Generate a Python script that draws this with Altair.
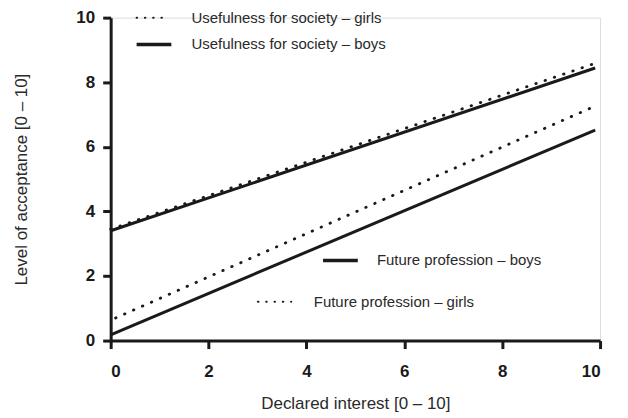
import altair as alt
import pandas as pd

# Regression lines (start/end values)
series = ["Usefulness for society – girls", "Usefulness for society – boys",
          "Future profession – boys", "Future profession – girls"]
styles = ["dotted", "solid", "solid", "dotted"]
x_start = [0.0, 0.0, 0.0, 0.1]
x_end = [9.85, 9.9, 9.9, 9.88]
y_start = [3.45, 3.4, 0.18, 0.7]
y_end = [8.56, 8.44, 6.52, 7.25]

# Inline legend keys (data units)
key_x1 = [0.53, 0.53, 4.34, 3.01]
key_x2 = [1.14, 1.24, 5.05, 3.69]
key_y = [10.0, 9.17, 2.48, 1.2]
label_x = [1.65, 1.65, 5.44, 4.15]

rows = []
for s, st, xa, xb, ya, yb in zip(series, styles, x_start, x_end, y_start, y_end):
    rows.append({"series": s, "style": st, "x": xa, "y": ya})
    rows.append({"series": s, "style": st, "x": xb, "y": yb})
lines = pd.DataFrame(rows)
keys = pd.DataFrame({"series": series, "style": styles, "x1": key_x1,
                     "x2": key_x2, "y": key_y, "lx": label_x})

FONT = "Liberation Sans"
xs = alt.Scale(domain=[0, 10], nice=False, zero=False)
ys = alt.Scale(domain=[0, 10], nice=False, zero=False)

common = dict(grid=False, domainWidth=3, domainColor="#1a1a1a", tickWidth=3,
              tickColor="#1a1a1a", tickSize=8, labelFontWeight="bold",
              labelFontSize=17, labelFont=FONT, labelColor="#1a1a1a",
              titleFont=FONT, titleFontSize=17, titleFontWeight="normal",
              titleColor="#2a2a2a")
xaxis = alt.Axis(values=[0, 2, 4, 6, 8, 10], title="Declared interest [0 – 10]",
                 labelPadding=15, titlePadding=16, **common)
yaxis = alt.Axis(values=[0, 2, 4, 6, 8, 10], title="Level of acceptance [0 – 10]",
                 labelPadding=8, titlePadding=46, **common)

solid = alt.Chart(lines).transform_filter(alt.datum.style == "solid").mark_line(
    color="#1a1a1a", strokeWidth=3).encode(
    x=alt.X("x:Q", scale=xs, axis=xaxis),
    y=alt.Y("y:Q", scale=ys, axis=yaxis),
    detail="series:N")

dotted = alt.Chart(lines).transform_filter(alt.datum.style == "dotted").mark_line(
    color="#1a1a1a", strokeWidth=2.8, strokeDash=[0.5, 9.3], strokeCap="round").encode(
    x=alt.X("x:Q", scale=xs), y=alt.Y("y:Q", scale=ys), detail="series:N")

key_solid = alt.Chart(keys).transform_filter(alt.datum.style == "solid").mark_rule(
    color="#1a1a1a", strokeWidth=3.5).encode(
    x=alt.X("x1:Q", scale=xs), x2="x2:Q", y=alt.Y("y:Q", scale=ys))

key_dotted = alt.Chart(keys).transform_filter(alt.datum.style == "dotted").mark_rule(
    color="#1a1a1a", strokeWidth=2, strokeDash=[0.5, 7.8], strokeCap="round").encode(
    x=alt.X("x1:Q", scale=xs), x2="x2:Q", y=alt.Y("y:Q", scale=ys))

labels = alt.Chart(keys).mark_text(align="left", baseline="middle", font=FONT,
                                   fontSize=15, color="#2a2a2a").encode(
    x=alt.X("lx:Q", scale=xs), y=alt.Y("y:Q", scale=ys), text="series:N")

chart = alt.layer(solid, dotted, key_solid, key_dotted, labels).properties(
    width=491, height=324,
    autosize=alt.AutoSizeParams(type="none"),
    padding={"left": 103, "top": 9, "right": 20, "bottom": 76},
).configure_view(stroke=None).configure(background="white")

chart.save("out.html", embed_options={"renderer": "svg", "actions": False})
